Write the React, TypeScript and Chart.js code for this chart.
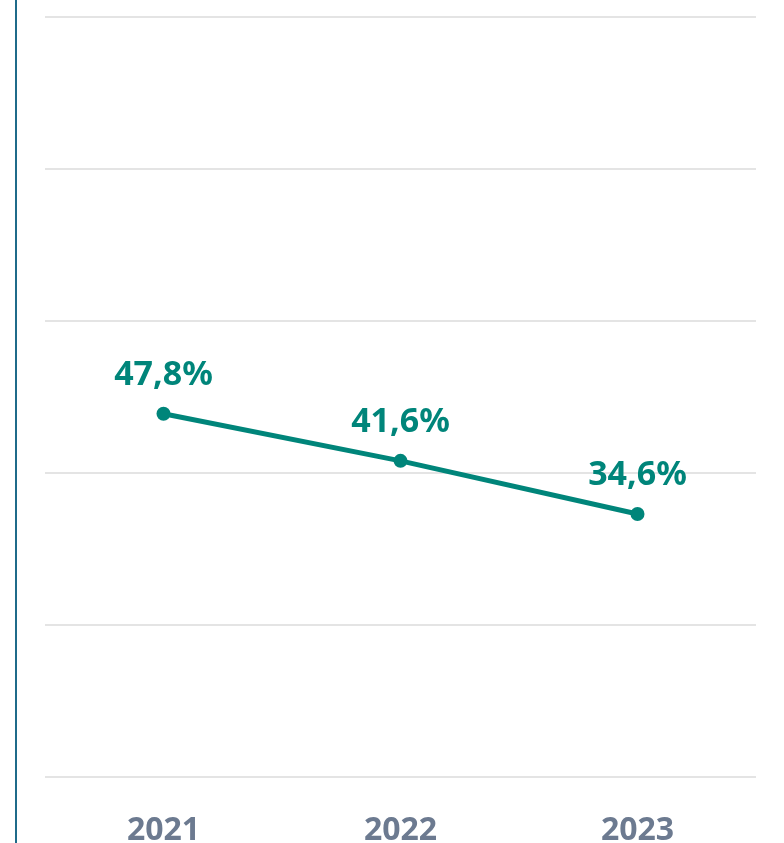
import React, { useEffect, useRef } from "react";
import { Chart, registerables } from "chart.js";

Chart.register(...registerables);

const categories = ["2021", "2022", "2023"];
const values = [47.8, 41.6, 34.6];
const valueLabels = ["47,8%", "41,6%", "34,6%"];

const TEAL = "#00857a";
const FONT = "'Noto Sans', sans-serif";

const labelPlugin = {
  id: "valueLabels",
  afterDatasetsDraw(chart: any) {
    const ctx = chart.ctx;
    const meta = chart.getDatasetMeta(0);
    ctx.save();
    ctx.fillStyle = TEAL;
    ctx.font = `bold 34px ${FONT}`;
    ctx.textAlign = "center";
    ctx.textBaseline = "alphabetic";
    meta.data.forEach((pt: any, i: number) => {
      ctx.fillText(valueLabels[i], pt.x, pt.y - 29);
    });
    ctx.restore();
  },
};

export default function App() {
  const ref = useRef<HTMLCanvasElement>(null);
  useEffect(() => {
    document.body.style.margin = "0";
    const chart = new Chart(ref.current!, {
      type: "line",
      data: {
        labels: categories,
        datasets: [
          {
            data: values,
            borderColor: TEAL,
            backgroundColor: TEAL,
            borderWidth: 5,
            pointRadius: 7,
            pointBackgroundColor: TEAL,
            pointBorderWidth: 0,
            fill: false,
            tension: 0,
          },
        ],
      },
      options: {
        animation: false,
        responsive: false,
        maintainAspectRatio: false,
        layout: { padding: { left: 45, right: 28, top: 17, bottom: 0 } },
        plugins: { legend: { display: false }, tooltip: { enabled: false } },
        scales: {
          x: {
            offset: true,
            grid: { display: false, drawTicks: false },
            border: { display: false },
            ticks: {
              color: "#6c7a90",
              font: { family: FONT, size: 32, weight: "bold" },
              padding: 35,
            },
            afterFit(axis: any) {
              axis.height = 66;
            },
          },
          y: {
            min: 0,
            max: 100,
            grid: { color: "#e4e4e4", lineWidth: 2, drawTicks: false },
            border: { display: false },
            ticks: { display: false, stepSize: 20 },
            afterFit(axis: any) {
              axis.width = 0;
            },
          },
        },
      },
      plugins: [labelPlugin],
    });
    return () => chart.destroy();
  }, []);
  return (
    <div style={{ position: "relative", width: 784, height: 843, overflow: "hidden", background: "#fff" }}>
      <div style={{ position: "absolute", left: 15, top: 0, width: 2, height: 843, background: "#1f6b8a" }} />
      <canvas ref={ref} width={784} height={843} style={{ position: "absolute", left: 0, top: 0 }} />
    </div>
  );
}
